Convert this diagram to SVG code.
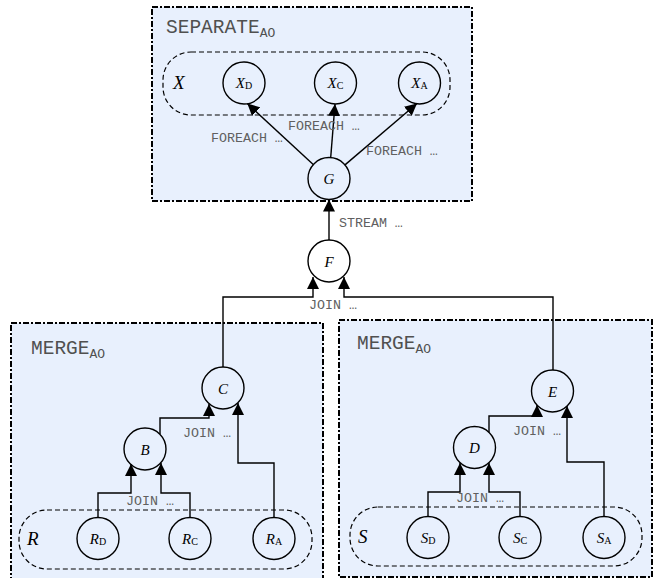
<svg xmlns="http://www.w3.org/2000/svg" width="654" height="578" viewBox="0 0 654 578">
  <defs>
    <marker id="arrow" viewBox="0 0 12 12" markerWidth="12" markerHeight="12" refX="12" refY="6" orient="auto" markerUnits="userSpaceOnUse">
      <path d="M0,0 L12,6 L0,12 z" fill="#000"/>
    </marker>
  </defs>
  <style>
    .frame{fill:#e8f0fd;stroke:#000;stroke-width:2;stroke-dasharray:6 2 2 2}
    .set{fill:none;stroke:#000;stroke-width:1.2;stroke-dasharray:5 3}
    .node circle{fill:none;stroke:#000;stroke-width:1.4}
    .lbl{font-family:"Liberation Serif",serif;font-size:15px;font-style:italic;fill:#000;text-anchor:middle}
    .sub{font-style:normal;font-size:10px}
    .title{font-family:"Liberation Mono",monospace;font-size:19.5px;fill:#505050}
    .ao{font-size:13px}
    .op{font-family:"Liberation Mono",monospace;font-size:13.3px;fill:#606060}
    .setname{font-family:"Liberation Serif",serif;font-style:italic;font-size:19px;fill:#000}
    .edge{fill:none;stroke:#000;stroke-width:1.4;marker-end:url(#arrow)}
  </style>

  <!-- operator frames -->
  <g id="separate">
    <rect class="frame" x="152" y="7" width="320" height="194"/>
    <text class="title" x="166" y="33">SEPARATE<tspan class="ao" dy="4">AO</tspan></text>
    <rect class="set" x="163" y="52" width="287" height="63" rx="28" ry="28"/>
    <text class="setname" x="173" y="89">X</text>
  </g>
  <g id="merge-left">
    <rect class="frame" x="11" y="323" width="312" height="262"/>
    <text class="title" x="31" y="354">MERGE<tspan class="ao" dy="4">AO</tspan></text>
    <rect class="set" x="19" y="510" width="293" height="59" rx="28" ry="28"/>
    <text class="setname" x="27" y="545">R</text>
  </g>
  <g id="merge-right">
    <rect class="frame" x="339" y="320" width="313" height="257"/>
    <text class="title" x="357" y="349">MERGE<tspan class="ao" dy="4">AO</tspan></text>
    <rect class="set" x="350" y="507" width="292" height="59" rx="28" ry="28"/>
    <text class="setname" x="358" y="543">S</text>
  </g>

  <!-- nodes -->
  <g id="XD" class="node"><circle cx="244" cy="83" r="21"/><text class="lbl" x="244" y="88">X<tspan class="sub" dy="1">D</tspan></text></g>
  <g id="XC" class="node"><circle cx="335.5" cy="83" r="21"/><text class="lbl" x="335.5" y="88">X<tspan class="sub" dy="1">C</tspan></text></g>
  <g id="XA" class="node"><circle cx="419.5" cy="83" r="21"/><text class="lbl" x="419.5" y="88">X<tspan class="sub" dy="1">A</tspan></text></g>
  <g id="G" class="node"><circle cx="329" cy="178.5" r="21"/><text class="lbl" x="329" y="184">G</text></g>
  <g id="F" class="node"><circle cx="329" cy="261" r="21"/><text class="lbl" x="329" y="266.5">F</text></g>
  <g id="C" class="node"><circle cx="223" cy="388" r="21"/><text class="lbl" x="223" y="393.5">C</text></g>
  <g id="B" class="node"><circle cx="145" cy="449" r="21"/><text class="lbl" x="145" y="454.5">B</text></g>
  <g id="RD" class="node"><circle cx="98" cy="538.5" r="21"/><text class="lbl" x="98" y="544">R<tspan class="sub" dy="1">D</tspan></text></g>
  <g id="RC" class="node"><circle cx="190" cy="538.5" r="21"/><text class="lbl" x="190" y="544">R<tspan class="sub" dy="1">C</tspan></text></g>
  <g id="RA" class="node"><circle cx="274" cy="538.5" r="21"/><text class="lbl" x="274" y="544">R<tspan class="sub" dy="1">A</tspan></text></g>
  <g id="E" class="node"><circle cx="552.5" cy="391" r="21"/><text class="lbl" x="552.5" y="396.5">E</text></g>
  <g id="D" class="node"><circle cx="474.5" cy="447.5" r="21"/><text class="lbl" x="474.5" y="453">D</text></g>
  <g id="SD" class="node"><circle cx="428" cy="537.5" r="21"/><text class="lbl" x="428" y="543">S<tspan class="sub" dy="1">D</tspan></text></g>
  <g id="SC" class="node"><circle cx="520" cy="537.5" r="21"/><text class="lbl" x="520" y="543">S<tspan class="sub" dy="1">C</tspan></text></g>
  <g id="SA" class="node"><circle cx="604" cy="537.5" r="21"/><text class="lbl" x="604" y="543">S<tspan class="sub" dy="1">A</tspan></text></g>

  <!-- connectors -->
  <g id="connectors">
    <path class="edge" d="M313.5,164.8 L247.3,103.5"/>
    <path class="edge" d="M330.7,157.6 L335,104"/>
    <path class="edge" d="M345,164.9 L417,103.5"/>
    <path class="edge" d="M329,240 L329,199.5"/>
    <path class="edge" d="M223,367 V297 H313 V277"/>
    <path class="edge" d="M553,370 V297 H344 V277"/>
    <path class="edge" d="M160,434 V418 H209 V404"/>
    <path class="edge" d="M274,517.5 V463 H238 V403"/>
    <path class="edge" d="M98,517.5 V493 H131 V464"/>
    <path class="edge" d="M190,517.5 V493 H161 V463"/>
    <path class="edge" d="M489,432 V416 H537 V405"/>
    <path class="edge" d="M604,516.5 V462 H567 V406"/>
    <path class="edge" d="M428,516.5 V492 H460 V463"/>
    <path class="edge" d="M520,516.5 V492 H489 V463"/>
    <text class="op" x="211" y="142">FOREACH …</text>
    <text class="op" x="288" y="130">FOREACH …</text>
    <text class="op" x="366" y="155">FOREACH …</text>
    <text class="op" x="339" y="227">STREAM …</text>
    <text class="op" x="309" y="309">JOIN …</text>
    <text class="op" x="183" y="437">JOIN …</text>
    <text class="op" x="126" y="505">JOIN …</text>
    <text class="op" x="513" y="435">JOIN …</text>
    <text class="op" x="456" y="502">JOIN …</text>
  </g>
</svg>
